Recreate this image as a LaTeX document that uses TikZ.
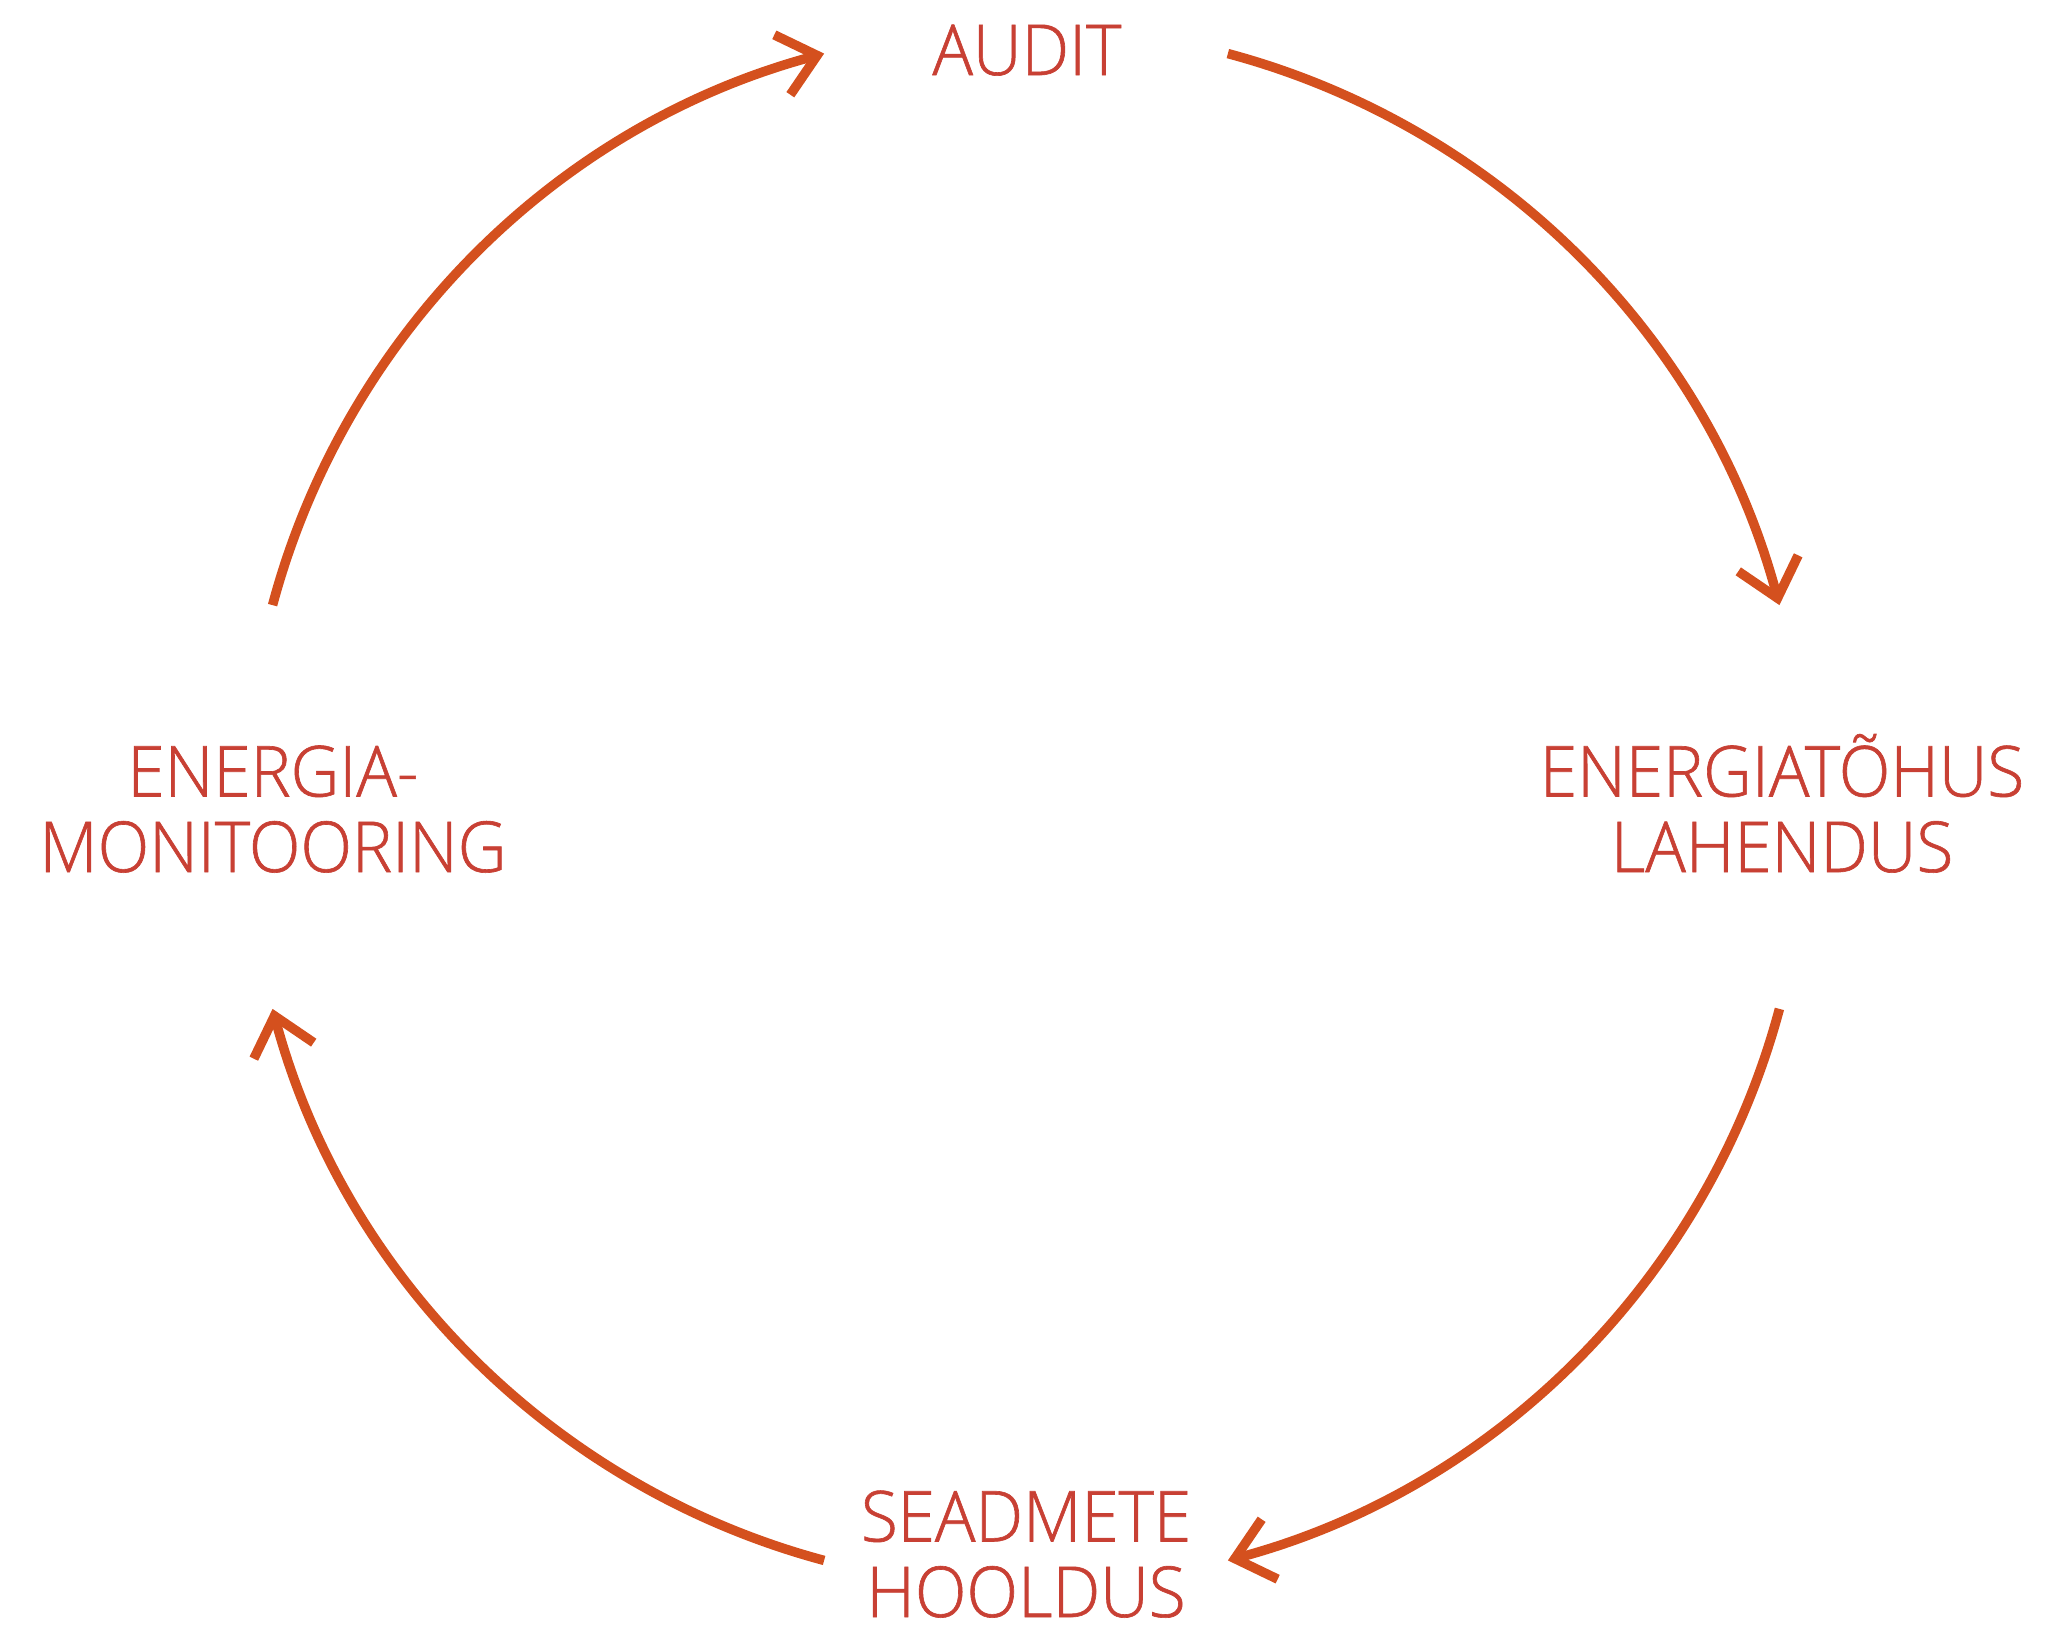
\documentclass[tikz,border=0pt]{standalone}
\usepackage{fontspec}
\setmainfont{Open Sans Light}[FakeStretch=0.96,FakeBold=0.9]
\usetikzlibrary{arrows.meta}
\definecolor{txtred}{RGB}{200,64,52}
\definecolor{arrred}{RGB}{212,80,30}
\tikzset{
  lbl/.style={text=txtred, font=\fontsize{20}{21.5}\selectfont, align=center, inner sep=0pt, anchor=base},
  cyc/.style={draw=arrred, line width=2.7pt, -{Straight Barb[length=0.36cm,width=0.62cm,line width=2.7pt]}}
}
\begin{document}
\begin{tikzpicture}
\useasboundingbox (0,0) rectangle (20.71,-16.36);
\coordinate (c) at (10.26,-8.07);
\def\R{7.8}
\node[lbl] (audit) at (10.27,-0.75) {AUDIT};
\node[lbl] (lah) at (17.82,-8.72) {ENERGIATÕHUS\\LAHENDUS};
\node[lbl] (hool) at (10.26,-16.17) {SEADMETE\\HOOLDUS};
\node[lbl] (mon) at (2.73,-8.72) {ENERGIA-\\MONITOORING};
\draw[cyc] ([shift={(165:\R)}]c) arc[start angle=165,end angle=105,radius=\R];
\draw[cyc] ([shift={(75:\R)}]c) arc[start angle=75,end angle=15,radius=\R];
\draw[cyc] ([shift={(-15:\R)}]c) arc[start angle=-15,end angle=-75,radius=\R];
\draw[cyc] ([shift={(-105:\R)}]c) arc[start angle=-105,end angle=-165,radius=\R];
\end{tikzpicture}
\end{document}
